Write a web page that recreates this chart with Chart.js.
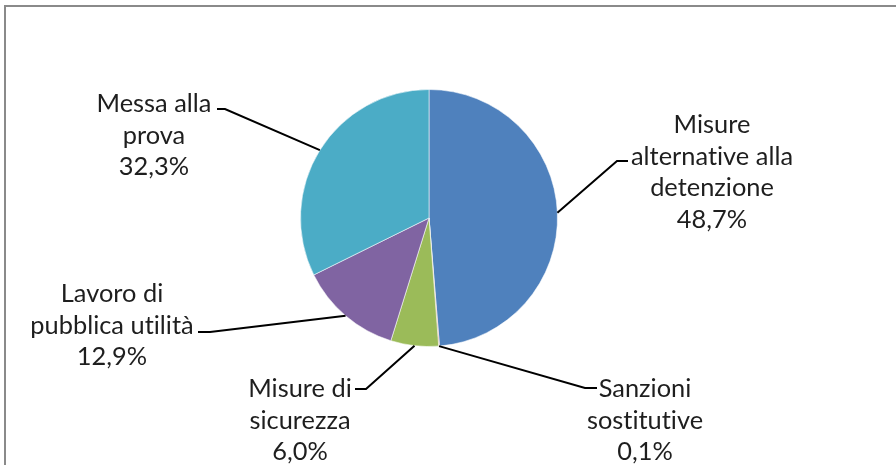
<!DOCTYPE html>
<html>
<head>
<meta charset="utf-8">
<script src="https://cdn.jsdelivr.net/npm/chart.js@4.4.1/dist/chart.umd.min.js"></script>
<style>
  html, body { margin: 0; padding: 0; background: #ffffff; }
  #wrap { width: 896px; height: 465px; position: relative; }
</style>
</head>
<body>
<div id="wrap"><canvas id="c" width="896" height="465"></canvas></div>
<script>
// ---- Data ----
const categories = ['Misure alternative alla detenzione', 'Sanzioni sostitutive', 'Misure di sicurezza', 'Lavoro di pubblica utilità', 'Messa alla prova'];
const values = [48.7, 0.1, 6.0, 12.9, 32.3];
const labelLines = [
  ['Misure', 'alternative alla', 'detenzione'],
  ['Sanzioni', 'sostitutive'],
  ['Misure di', 'sicurezza'],
  ['Lavoro di', 'pubblica utilità'],
  ['Messa alla', 'prova']
];
const colors = ['#4F81BD', '#C0504D', '#9BBB59', '#8064A2', '#4BACC6'];

// ---- Layout (label placement, not data) ----
const labelLayout = [
  { x: 712, y: 133, elbow: [617, 161], end: 628 },
  { x: 645, y: 397, elbow: [585, 388], end: 597 },
  { x: 300, y: 397, elbow: [366, 389], end: 355 },
  { x: 112, y: 302, elbow: [210, 332], end: 198 },
  { x: 154, y: 112, elbow: [225, 109], end: 217 }
];
const LINE_H = 31.5;

function fmtPct(v) { return v.toFixed(1).replace('.', ',') + '%'; }

const labelPlugin = {
  id: 'labelPlugin',
  beforeDraw(chart) {
    const ctx = chart.ctx;
    ctx.save();
    ctx.fillStyle = '#ffffff';
    ctx.fillRect(0, 0, chart.width, chart.height);
    ctx.strokeStyle = '#8a8a8a';
    ctx.lineWidth = 2;
    ctx.beginPath();
    ctx.moveTo(5, chart.height + 5);
    ctx.lineTo(5, 6);
    ctx.lineTo(chart.width + 5, 6);
    ctx.stroke();
    ctx.restore();
  },
  afterDraw(chart) {
    const ctx = chart.ctx;
    const meta = chart.getDatasetMeta(0);
    ctx.save();
    if ('letterSpacing' in ctx) ctx.letterSpacing = '0.01px';
    ctx.font = '100px Lato';
    const w = ctx.measureText('alternative alla').width;
    const fs = 100 * 162 / w;
    ctx.font = fs.toFixed(2) + 'px Lato';
    ctx.fillStyle = '#1e1e1e';
    ctx.textAlign = 'center';
    ctx.textBaseline = 'alphabetic';
    meta.data.forEach((arc, i) => {
      const p = arc.getProps(['x', 'y', 'startAngle', 'endAngle', 'outerRadius'], true);
      const mid = (p.startAngle + p.endAngle) / 2;
      const ax = p.x + Math.cos(mid) * p.outerRadius;
      const ay = p.y + Math.sin(mid) * p.outerRadius;
      const L = labelLayout[i];
      ctx.strokeStyle = '#000000';
      ctx.lineWidth = 2;
      ctx.beginPath();
      ctx.moveTo(ax, ay);
      ctx.lineTo(L.elbow[0], L.elbow[1]);
      ctx.lineTo(L.end, L.elbow[1]);
      ctx.stroke();
      const lines = labelLines[i].concat([fmtPct(values[i])]);
      lines.forEach((t, k) => {
        ctx.fillText(t, L.x, L.y + k * LINE_H);
      });
    });
    ctx.restore();
  }
};

new Chart(document.getElementById('c'), {
  type: 'pie',
  data: {
    labels: categories,
    datasets: [{
      data: values,
      backgroundColor: colors,
      borderColor: 'rgba(255,255,255,0.55)',
      borderWidth: 1,
      hoverOffset: 0
    }]
  },
  options: {
    responsive: false,
    animation: false,
    events: [],
    layout: { padding: { top: 89, bottom: 118, left: 300, right: 338 } },
    plugins: {
      legend: { display: false },
      tooltip: { enabled: false },
      title: { display: false }
    }
  },
  plugins: [labelPlugin]
});
</script>
</body>
</html>
